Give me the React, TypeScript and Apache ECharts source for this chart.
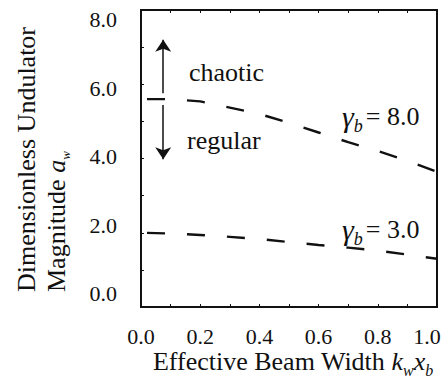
import React, { useEffect, useRef } from 'react';
import * as echarts from 'echarts';

const beamWidth = [0, 0.1, 0.2, 0.3, 0.4, 0.5, 0.6, 0.7, 0.8, 0.9, 1.0];
const awGamma8 = [5.6, 5.6, 5.54, 5.37, 5.2, 4.96, 4.7, 4.44, 4.2, 3.94, 3.64];
const awGamma3 = [2.0, 1.98, 1.94, 1.89, 1.83, 1.75, 1.67, 1.6, 1.52, 1.41, 1.3];
const arrowX = 0.075;
const arrowUp = [5.76, 7.2];
const arrowDown = [5.44, 3.98];

const FAM = 'Liberation Serif, serif';
const INK = '#111';
const f = (size: number, italic = false) => `${italic ? 'italic ' : ''}${size}px ${FAM}`;

export default function App() {
  const ref = useRef<HTMLDivElement>(null);
  useEffect(() => {
    if (!ref.current) return;
    const chart = echarts.init(ref.current, undefined, { renderer: 'svg' });
    const toPairs = (ys: number[]) => beamWidth.map((x, i) => [x, ys[i]]);
    const lineStyle = { type: [18, 22] as any, dashOffset: 34, width: 2.4, color: INK };
    const sub = (p: number, size = 16) => ({ fontFamily: FAM, fontSize: size, fontStyle: 'italic', padding: [p, 0, 0, 0], verticalAlign: 'middle', fill: INK, color: INK });
    const main = { fontFamily: FAM, fontSize: 26, verticalAlign: 'middle', fill: INK, color: INK };
    const eq = { fontFamily: FAM, fontSize: 26, verticalAlign: 'middle', fill: INK, color: INK, padding: [0, 0, 0, 3] };
    const ital = { fontFamily: FAM, fontSize: 26, fontStyle: 'italic', verticalAlign: 'middle', fill: INK, color: INK };
    const gam = { fontFamily: FAM, fontSize: 30, fontStyle: 'italic', verticalAlign: 'middle', fill: INK, color: INK };

    const option: any = {
      animation: false,
      backgroundColor: '#fff',
      textStyle: { fontFamily: FAM },
      grid: [
        { left: 141, right: 10, top: 10, bottom: 70, show: true, borderColor: INK, borderWidth: 2, backgroundColor: 'transparent' },
        { left: 141, right: 10, top: 19.5, bottom: 83.5 },
      ],
      xAxis: [
        {
          gridIndex: 0, type: 'value', min: 0, max: 1, interval: 0.2, position: 'bottom',
          axisLine: { show: false },
          axisTick: { show: true, inside: true, length: 3, lineStyle: { color: INK, width: 1 } },
          minorTick: { show: true, splitNumber: 2, length: 3, lineStyle: { color: INK, width: 1 } },
          splitLine: { show: false },
          axisLabel: {
            margin: 18, color: INK, fontFamily: FAM, fontSize: 22,
            formatter: (v: number) => (v === 1 ? '{r|1.0}' : v.toFixed(1)),
            rich: { r: { fontFamily: FAM, fontSize: 22, color: INK, padding: [0, 20, 0, 0] } },
          },
        },
        {
          gridIndex: 0, type: 'value', min: 0, max: 1, interval: 0.1, position: 'top',
          axisLine: { show: false },
          axisTick: { show: true, inside: true, length: 3, lineStyle: { color: INK, width: 1 } },
          splitLine: { show: false }, axisLabel: { show: false },
        },
        { gridIndex: 1, type: 'value', min: 0, max: 1, show: false },
      ],
      yAxis: [
        {
          gridIndex: 0, type: 'value', min: 0, max: 8, interval: 1,
          axisLine: { show: false },
          axisTick: { show: true, inside: true, length: 3, lineStyle: { color: INK, width: 1 } },
          splitLine: { show: false }, axisLabel: { show: false },
        },
        {
          gridIndex: 1, type: 'value', min: 0, max: 8, interval: 2,
          axisLine: { show: false }, axisTick: { show: false }, splitLine: { show: false },
          axisLabel: { margin: 24, color: INK, fontFamily: FAM, fontSize: 22, formatter: (v: number) => v.toFixed(1) },
        },
      ],
      series: [
        {
          type: 'line', xAxisIndex: 0, yAxisIndex: 0, data: toPairs(awGamma8), symbol: 'none',
          lineStyle, silent: true,
          markLine: {
            silent: true, symbol: ['none', 'arrow'], symbolSize: 12,
            lineStyle: { type: 'solid', color: INK, width: 1.5 },
            label: { show: false },
            data: [
              [{ coord: [arrowX, arrowUp[0]] }, { coord: [arrowX, arrowUp[1]] }],
              [{ coord: [arrowX, arrowDown[0]] }, { coord: [arrowX, arrowDown[1]] }],
            ],
          },
        },
        { type: 'line', xAxisIndex: 0, yAxisIndex: 0, data: toPairs(awGamma3), symbol: 'none', lineStyle, silent: true },
      ],
      graphic: [
        { type: 'text', x: 26.2, y: 292, rotation: Math.PI / 2, style: { text: 'Dimensionless Undulator', font: f(26), fill: INK, align: 'left', verticalAlign: 'middle' } },
        { type: 'text', x: 56.2, y: 292, rotation: Math.PI / 2, style: { text: '{t|Magnitude }{i|a}{s|w}', font: f(26), fill: INK, align: 'left', verticalAlign: 'middle', rich: { t: main, i: ital, s: sub(18, 13) } } },
        { type: 'text', x: 293, y: 361, style: { text: '{t|Effective Beam Width }{i|k}{s|w}{i|x}{s|b}', font: f(26), fill: INK, align: 'center', verticalAlign: 'middle', rich: { t: main, i: ital, s: sub(18) } } },
        { type: 'text', x: 189, y: 72.9, style: { text: 'chaotic', font: f(26), fill: INK, align: 'left', verticalAlign: 'middle' } },
        { type: 'text', x: 187, y: 140, style: { text: 'regular', font: f(26), fill: INK, align: 'left', verticalAlign: 'middle' } },
        { type: 'text', x: 342, y: 116.2, style: { text: '{i|γ}{s|b}{t|= 8.0}', font: f(26), fill: INK, align: 'left', verticalAlign: 'middle', rich: { t: eq, i: gam, s: sub(20, 18) } } },
        { type: 'text', x: 342, y: 229.2, style: { text: '{i|γ}{s|b}{t|= 3.0}', font: f(26), fill: INK, align: 'left', verticalAlign: 'middle', rich: { t: eq, i: gam, s: sub(20, 18) } } },
      ],
    };
    chart.setOption(option);
    return () => chart.dispose();
  }, []);
  return <div ref={ref} style={{ width: 447, height: 377, position: 'absolute', left: 0, top: 0 }} />;
}
